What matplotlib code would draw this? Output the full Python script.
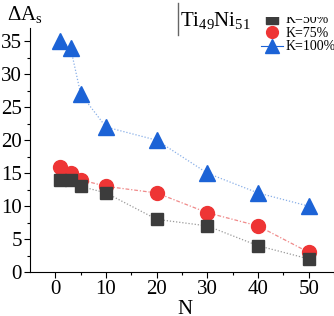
import matplotlib
matplotlib.use("Agg")
import matplotlib.pyplot as plt
from matplotlib.lines import Line2D
from matplotlib.patches import Rectangle

plt.rcParams["font.family"] = ["Liberation Serif", "DejaVu Serif"]
plt.rcParams["mathtext.fontset"] = "custom"
plt.rcParams["mathtext.rm"] = "Liberation Serif"
plt.rcParams["mathtext.it"] = "Liberation Serif"

cycles = [1, 3, 5, 10, 20, 30, 40, 50]
k50 = [14, 14, 13, 12, 8, 7, 4, 2]
k75 = [16, 15, 14, 13, 12, 9, 7, 3]
k100 = [35, 34, 27, 22, 20, 15, 12, 10]
labels = ["K=50%", "K=75%", "K=100%"]
x_ticks = [0, 10, 20, 30, 40, 50]
y_ticks = [0, 5, 10, 15, 20, 25, 30, 35]

fig = plt.figure(figsize=(3.34, 3.16), dpi=100)
ax = fig.add_axes([0.09, 0.139, 0.91, 0.772])

ax.plot(cycles, k50, color="#9a9a9a", ls=(0, (1, 1.5)), lw=0.9, zorder=1)
ax.plot(cycles, k75, color="#f08a8a", ls=(0, (3, 1.5, 1, 1.5)), lw=0.9, zorder=1)
ax.plot(cycles, k100, color="#8ab0e8", ls=(0, (1, 1.5)), lw=0.9, zorder=1)
ax.plot(cycles, k50, "s", color="#3c3c3c", ms=9, ls="none", zorder=3)
ax.plot(cycles, k75, "o", color="#ee3535", ms=10, ls="none", zorder=2)
ax.plot(cycles, k100, "^", color="#1c63d6", ms=11, ls="none", zorder=3)

ax.set_xlim(-5, 55)
ax.set_ylim(0, 37)
ax.set_xticks(x_ticks)
ax.set_yticks(y_ticks)
ax.set_xticks([5, 15, 25, 35, 45, 55], minor=True)
ax.set_yticks([2.5, 7.5, 12.5, 17.5, 22.5, 27.5, 32.5], minor=True)
ax.tick_params(labelsize=15, direction="out", length=4, width=0.8, pad=2)
ax.tick_params(which="minor", direction="out", length=2.5, width=0.8)
for side in ["top", "right"]:
    ax.spines[side].set_visible(False)
ax.spines["left"].set_linewidth(0.8)
ax.spines["bottom"].set_linewidth(0.8)

ax.set_xlabel("N", fontsize=15, va="baseline")
ax.xaxis.set_label_coords(0.51, -0.17)
fig.text(0.02, 0.955, r"ΔA$_\mathregular{s}$", fontsize=15, va="center", ha="left")

fig.text(0.54, 0.935, r"Ti$_\mathregular{49}$Ni$_\mathregular{51}$", fontsize=15, va="center", ha="left")
fig.add_artist(Line2D([0.533, 0.533], [0.89, 0.99], color="#666666", lw=1.0, transform=fig.transFigure))

handles = [Line2D([], [], marker="s", color="#3c3c3c", ms=8, ls="none"),
           Line2D([], [], marker="o", color="#ee3535", ms=8.5, ls="none"),
           Line2D([], [], marker="^", color="#1c63d6", ms=9.5, ls="-", lw=0.8)]
leg = fig.legend(handles, labels, loc="upper left", bbox_to_anchor=(0.755, 0.985), frameon=False,
                 fontsize=10, handletextpad=0.2, labelspacing=0.05, borderpad=0.1, handlelength=1.6)
# the first legend row is mostly hidden in the original figure
fig.add_artist(Rectangle((0.78, 0.946), 0.25, 0.06, transform=fig.transFigure,
                         facecolor="white", edgecolor="none", zorder=10))

fig.savefig("out.png", dpi=100)
